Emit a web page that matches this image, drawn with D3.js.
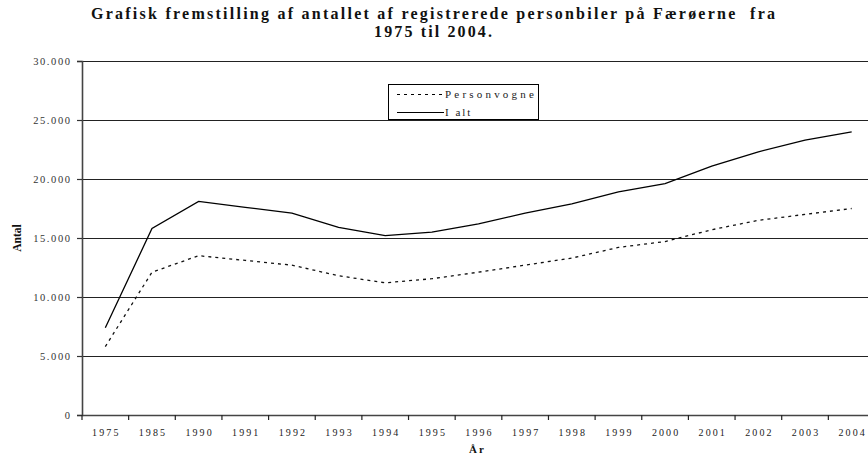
<!DOCTYPE html>
<html>
<head>
<meta charset="utf-8">
<script src="https://cdn.jsdelivr.net/npm/d3@7"></script>
<style>
html,body{margin:0;padding:0;background:#fff;}
svg{display:block;}
svg text{font-family:"Liberation Serif","Times New Roman",serif !important;}
</style>
</head>
<body>
<svg id="chart" width="868" height="457"></svg>
<script>
const years = ["1975","1985","1990","1991","1992","1993","1994","1995","1996","1997","1998","1999","2000","2001","2002","2003","2004"];
const personvogne = [5800,12100,13500,13100,12700,11800,11200,11550,12100,12700,13300,14200,14700,15700,16500,17000,17500];
const iAlt = [7400,15800,18100,17600,17100,15900,15200,15500,16200,17100,17900,18900,19600,21100,22300,23300,24000];
const yTicks = [0,5000,10000,15000,20000,25000,30000];
const titleLines = ["Grafisk fremstilling af antallet af registrerede personbiler på Færøerne  fra","1975 til 2004."];
const seriesNames = ["Personvogne","I alt"];

(function(){
const svg = d3.select("#chart");
const pLeft = 82, pRight = 875, pTop = 61, pBottom = 415;

const x = d3.scaleBand().domain(years).range([pLeft, pRight]).padding(0);
const y = d3.scaleLinear().domain([0, 30000]).range([pBottom, pTop]);
const fmt = v => d3.format(",")(v).replace(/,/g, ".");

// gridlines
svg.append("g").selectAll("line").data(yTicks.filter(d => d > 0)).join("line")
  .attr("x1", pLeft).attr("x2", 868)
  .attr("y1", d => Math.round(y(d)) + 0.5).attr("y2", d => Math.round(y(d)) + 0.5)
  .attr("stroke", "#222").attr("stroke-width", 1);

// y axis
const yAxis = svg.append("g").attr("transform", `translate(${pLeft},0)`)
  .call(d3.axisLeft(y).tickValues(yTicks).tickFormat(fmt).tickSize(5).tickPadding(7));
yAxis.attr("font-family", null);
yAxis.select(".domain").attr("stroke", "#444").attr("stroke-width", 1.6);
yAxis.selectAll(".tick line").attr("stroke", "#333").attr("stroke-width", 1.2);
yAxis.selectAll("text").attr("font-size", 10.5)
  .attr("letter-spacing", "1.6px").attr("fill", "#333").attr("dx", "1.6");

// x axis
const xAxis = svg.append("g").attr("transform", `translate(0,${pBottom})`)
  .call(d3.axisBottom(x).tickSize(0).tickPadding(14));
xAxis.attr("font-family", null);
xAxis.select(".domain").attr("stroke", "#444").attr("stroke-width", 1.6);
xAxis.selectAll("text").attr("font-size", 10)
  .attr("letter-spacing", "2.1px").attr("fill", "#222").attr("dx", "1");
const bounds = years.map(d => x(d)).concat([pRight]);
xAxis.append("g").selectAll("line").data(bounds).join("line")
  .attr("x1", d => d).attr("x2", d => d).attr("y1", 0).attr("y2", 5)
  .attr("stroke", "#222").attr("stroke-width", 1.2);

// lines
const line = vals => d3.line()
  .x((d, i) => x(years[i]) + x.bandwidth() / 2)
  .y(d => y(d))(vals);

svg.append("path").attr("d", line(personvogne))
  .attr("fill", "none").attr("stroke", "#111").attr("stroke-width", 1.3)
  .attr("stroke-dasharray", "3,4");
svg.append("path").attr("d", line(iAlt))
  .attr("fill", "none").attr("stroke", "#000").attr("stroke-width", 1.3);

// title
svg.append("text").attr("x", 91).attr("y", 19).attr("font-weight", "bold").attr("font-size", 16)
  .style("white-space", "pre")
  .attr("textLength", 684).attr("lengthAdjust", "spacing").attr("fill", "#111").text(titleLines[0]);
svg.append("text").attr("x", 374).attr("y", 37).attr("font-weight", "bold").attr("font-size", 16)
  .attr("textLength", 118).attr("lengthAdjust", "spacing").attr("fill", "#111").text(titleLines[1]);

// axis titles
svg.append("text").attr("transform", "translate(21,238) rotate(-90)").attr("text-anchor", "middle")
  .attr("font-weight", "bold").attr("font-size", 11.5).attr("fill", "#111").text("Antal");
svg.append("text").attr("x", 469).attr("y", 453).attr("font-weight", "bold").attr("font-size", 11)
  .attr("letter-spacing", "2px").attr("fill", "#111").text("År");

// legend
const lg = svg.append("g");
lg.append("rect").attr("x", 388.5).attr("y", 84.5).attr("width", 150).attr("height", 35)
  .attr("fill", "#fff").attr("stroke", "#000").attr("stroke-width", 1);
const rowsY = [94, 112];
lg.selectAll("line").data(seriesNames).join("line")
  .attr("x1", 397).attr("x2", 444)
  .attr("y1", (d, i) => rowsY[i] + 0.5).attr("y2", (d, i) => rowsY[i] + 0.5)
  .attr("stroke", "#000").attr("stroke-width", 1.2)
  .attr("stroke-dasharray", (d, i) => i === 0 ? "3,4" : null);
lg.selectAll("text").data(seriesNames).join("text")
  .attr("x", 445).attr("y", (d, i) => rowsY[i] + 4)
  .attr("font-size", 11).attr("letter-spacing", (d, i) => i === 0 ? "3.2px" : "2px")
  .attr("fill", "#222").text(d => d);
})();
</script>
</body>
</html>
